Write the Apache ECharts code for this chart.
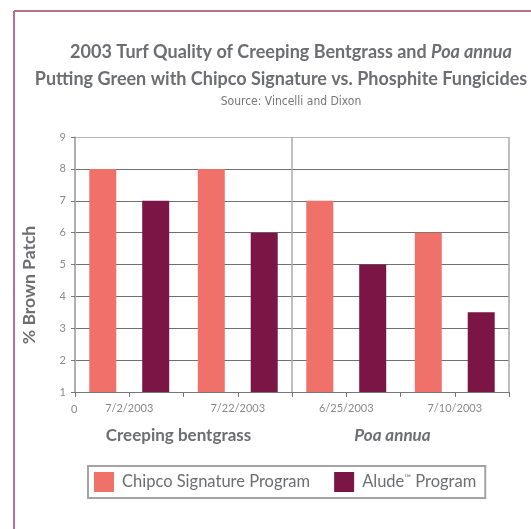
<!DOCTYPE html>
<html>
<head>
<meta charset="utf-8">
<script src="https://cdn.jsdelivr.net/npm/echarts@6/dist/echarts.min.js"></script>
<style>
  html, body { margin: 0; padding: 0; background: #fff; }
  #chart { width: 531px; height: 529px; }
</style>
</head>
<body>
<div id="chart"></div>
<script>
var dates = ['7/2/2003', '7/22/2003', '6/25/2003', '7/10/2003'];
var groups = ['Creeping bentgrass', 'Poa annua'];
var chipco = [8, 8, 7, 6];
var alude = [7, 6, 5, 3.5];
var yTicks = [1, 9, 1]; // min, max, step

var grey = '#6d6e71';
var chart = echarts.init(document.getElementById('chart'));

var option = {
    animation: false,
    title: {
        text: '{b|2003 Turf Quality of Creeping Bentgrass and }{i|Poa annua}\n{c|Putting Green with Chipco Signature vs. Phosphite Fungicides}',
        subtext: 'Source: Vincelli and Dixon',
        left: 286,
        top: 34,
        textAlign: 'center',
        itemGap: 12,
        textStyle: {
            rich: {
                b: { fontFamily: 'Lato', fontWeight: 'bold', fontSize: 18, color: grey, lineHeight: 27 },
                i: { fontFamily: 'Lato', fontWeight: 'bold', fontStyle: 'italic', fontSize: 18, color: grey, lineHeight: 27 },
                c: { fontFamily: 'Lato', fontWeight: 'bold', fontSize: 18, color: grey, lineHeight: 27, padding: [0, 20, 0, 0] }
            }
        },
        subtextStyle: { fontFamily: '"DejaVu Sans Condensed", "Liberation Sans", sans-serif', fontSize: 12, color: '#777' }
    },
    legend: {
        left: 88,
        top: 466,
        data: ['Chipco Signature Program', 'Alude™ Program'],
        icon: 'rect',
        itemWidth: 20,
        itemHeight: 20,
        itemGap: 24,
        padding: [6, 9, 6, 6],
        borderColor: '#a3a3a3',
        borderWidth: 2,
        formatter: function (name) {
            return name.indexOf('™') >= 0 ? '{t|Alude}{s|™}{t| Program}' : '{t|' + name + '}';
        },
        textStyle: {
            padding: [0, 0, 0, 3],
            rich: {
                t: { fontFamily: 'Lato', fontSize: 16.5, color: grey },
                s: { fontFamily: 'Lato', fontSize: 9, color: grey, padding: [0, 0, 8, 0] }
            }
        }
    },
    grid: { left: 75, right: 22, top: 137, bottom: 137 },
    xAxis: [
        {
            type: 'category',
            position: 'bottom',
            data: dates,
            axisLine: { show: false },
            axisTick: { show: false },
            axisLabel: { fontFamily: 'Lato', fontSize: 11, color: '#8a8a8a', margin: 11 }
        },
        {
            type: 'category',
            position: 'bottom',
            data: ['', '', '', '', '', '', '', ''],
            axisLine: { show: true, lineStyle: { color: '#777', width: 1 } },
            axisTick: { show: true, length: 5, interval: 0, lineStyle: { color: '#777' } },
            axisLabel: { show: false }
        },
        {
            type: 'category',
            position: 'bottom',
            data: groups,
            axisLine: { show: false },
            axisTick: { show: false },
            splitLine: { show: true, interval: 0, lineStyle: { color: '#aaa', width: 1.5 } },
            axisLabel: {
                margin: 35,
                formatter: function (v) {
                    return v === 'Poa annua' ? '{i|' + v + '}' : '{b|' + v + '}';
                },
                rich: {
                    b: { fontFamily: 'Lato', fontWeight: 'bold', fontSize: 17, color: grey, padding: [0, 10, 0, 0] },
                    i: { fontFamily: 'Lato', fontWeight: 'bold', fontStyle: 'italic', fontSize: 17, color: grey, padding: [0, 16, 0, 0] }
                }
            }
        }
    ],
    yAxis: {
        type: 'value',
        min: yTicks[0],
        max: yTicks[1],
        interval: yTicks[2],
        axisLine: { show: true, lineStyle: { color: '#aaa', width: 1.5 } },
        axisTick: { show: true, length: 4, lineStyle: { color: '#777' } },
        axisLabel: { fontFamily: 'Lato', fontSize: 11, color: '#8a8a8a', margin: 9 },
        splitLine: {
            lineStyle: {
                color: ['#707070', '#707070', '#707070', '#707070', '#707070', '#707070', '#707070', '#707070', '#b5b5b5'],
                width: 1.2
            }
        }
    },
    series: [
        {
            name: 'Chipco Signature Program',
            type: 'bar',
            xAxisIndex: 0,
            data: chipco,
            barWidth: 27,
            barGap: '96%',
            itemStyle: { color: '#f0706a' }
        },
        {
            name: 'Alude™ Program',
            type: 'bar',
            xAxisIndex: 0,
            data: alude,
            barWidth: 27,
            itemStyle: { color: '#7b1545' }
        }
    ],
    graphic: [
        { type: 'line', shape: { x1: 14, y1: 11, x2: 14, y2: 529 }, style: { stroke: '#b5708e', lineWidth: 2 } },
        { type: 'line', shape: { x1: 14, y1: 11, x2: 531, y2: 11 }, style: { stroke: '#b5708e', lineWidth: 2 } },
        { type: 'text', left: 71, top: 404, style: { text: '0', fontFamily: 'Lato', fontSize: 11, fill: '#8a8a8a' } },
        {
            type: 'text', x: 29, y: 285, rotation: Math.PI / 2,
            style: {
                text: '% Brown Patch', fontFamily: 'Lato', fontWeight: 'bold', fontSize: 17.5,
                fill: grey, align: 'center', verticalAlign: 'middle'
            }
        }
    ]
};

chart.setOption(option);
</script>
</body>
</html>
